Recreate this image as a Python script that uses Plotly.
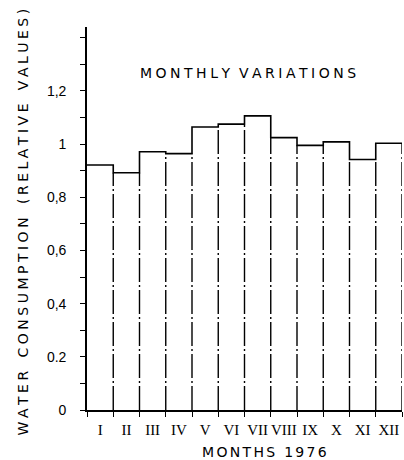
import plotly.graph_objects as go

# Monthly water consumption, relative to the yearly mean (1976)
months = ["I", "II", "III", "IV", "V", "VI", "VII", "VIII", "IX", "X", "XI", "XII"]
relative_use = [0.921, 0.892, 0.971, 0.964, 1.064, 1.075, 1.106,
                1.024, 0.995, 1.008, 0.942, 1.003]

y_tick_values = [0, 0.2, 0.4, 0.6, 0.8, 1.0, 1.2]
y_tick_labels = ["0", "0.2", "0,4", "0,6", "0,8", "1", "1,2"]

chart_title = "MONTHLY VARIATIONS"
x_title = "MONTHS 1976"
y_title = "WATER CONSUMPTION (RELATIVE VALUES)"


def spaced(text, gap="\u2005", word_gap="  "):
    """Stencil-style lettering: widen the spacing between letters."""
    return word_gap.join(gap.join(word) for word in text.split(" "))


n = len(months)
centers = list(range(n))
edges = [i - 0.5 for i in range(n + 1)]

# Solid stepped outline across the bar tops
step_x = edges
step_y = relative_use + [relative_use[-1]]

# Broken lines for the bar sides
side_x, side_y = [], []
for k in range(1, n + 1):
    if k < n:
        top = min(relative_use[k - 1], relative_use[k])
    else:
        top = relative_use[-1]
    side_x += [edges[k], edges[k], None]
    side_y += [0, top, None]

fig = go.Figure()
fig.add_trace(go.Scatter(
    x=side_x, y=side_y, mode="lines",
    line=dict(color="black", width=1.4, dash="24px,3px,2px,3px"),
    cliponaxis=False, hoverinfo="skip", showlegend=False,
))
fig.add_trace(go.Scatter(
    x=step_x, y=step_y, mode="lines", line_shape="hv",
    line=dict(color="black", width=1.6),
    cliponaxis=False, hoverinfo="skip", showlegend=False,
))
# invisible bars carry the hover values
fig.add_trace(go.Bar(
    x=centers, y=relative_use, width=1,
    marker=dict(color="rgba(0,0,0,0)", line=dict(width=0)),
    customdata=months, hovertemplate="%{customdata}: %{y:.3f}<extra></extra>",
    showlegend=False,
))

fig.update_layout(
    width=404, height=460,
    margin=dict(l=87, r=2, t=27, b=50),
    paper_bgcolor="white", plot_bgcolor="white",
    font=dict(family="DejaVu Sans", color="black"),
    bargap=0,
)

fig.update_xaxes(
    range=[-0.5, 11.5], showgrid=False, zeroline=False,
    showline=True, linecolor="black", linewidth=1.6,
    tickmode="array", tickvals=centers, ticktext=months, ticks="",
    tickfont=dict(family="Liberation Serif", size=15, color="black"),
    ticklabelstandoff=5,
    minor=dict(tickmode="array", tickvals=edges, ticks="outside",
               ticklen=5, tickwidth=1.2, tickcolor="black"),
)
fig.update_yaxes(
    range=[0, 1.44], showgrid=False, zeroline=False,
    showline=True, linecolor="black", linewidth=1.6,
    tickmode="array", tickvals=y_tick_values, ticktext=y_tick_labels,
    ticks="outside", ticklen=5, tickwidth=1.2, tickcolor="black",
    tickfont=dict(family="Liberation Sans", size=14, color="black"),
    ticklabelstandoff=11,
    minor=dict(tickmode="linear", tick0=0, dtick=0.1, ticks="outside",
               ticklen=5, tickwidth=1.2, tickcolor="black"),
)

fig.add_annotation(
    text=spaced(chart_title), xref="paper", yref="paper",
    x=0.511, y=0.88, xanchor="center", yanchor="middle", showarrow=False,
    font=dict(family="DejaVu Sans", size=14, color="black"),
)
fig.add_annotation(
    text=spaced(x_title, gap="\u2006"), xref="paper", yref="paper",
    x=0.565, y=-0.11, xanchor="center", yanchor="middle", showarrow=False,
    font=dict(family="DejaVu Sans", size=14, color="black"),
)
fig.add_annotation(
    text=spaced(y_title, word_gap="   "), xref="paper", yref="paper",
    textangle=-90, x=-0.203, y=0.49, xanchor="center", yanchor="middle",
    showarrow=False,
    font=dict(family="DejaVu Sans", size=14, color="black"),
)

fig.write_html("out.html")
